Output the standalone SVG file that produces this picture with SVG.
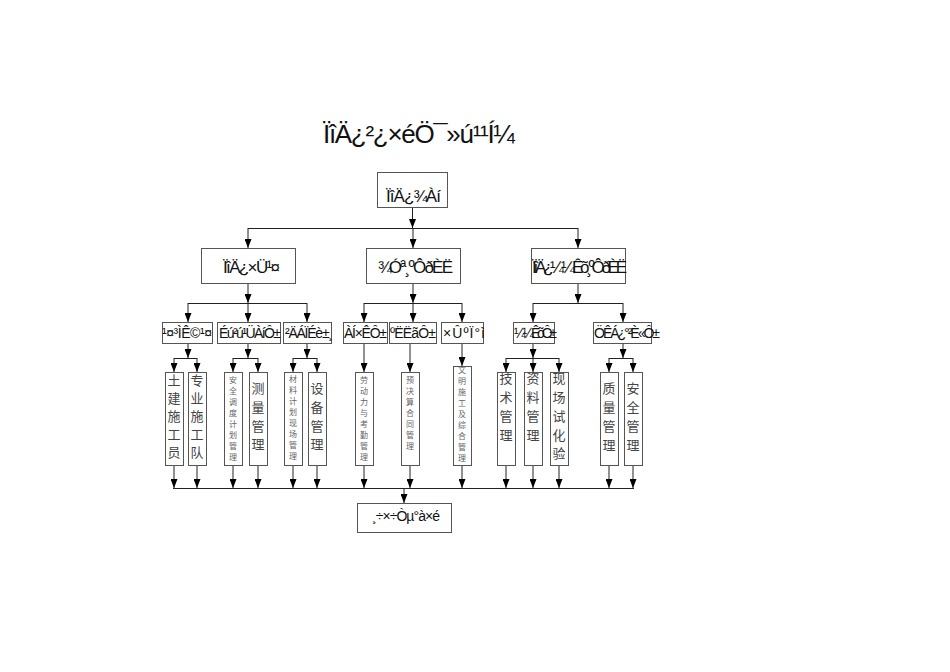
<svg xmlns="http://www.w3.org/2000/svg" width="950" height="672" viewBox="0 0 950 672">
<style>
.bx{fill:#fff;stroke:#555;stroke-width:1}
.ln{fill:none;stroke:#222;stroke-width:1}
.lat{font-family:"Liberation Sans","DejaVu Sans",sans-serif;fill:#111}
.v{font-family:"Noto Sans CJK SC",sans-serif;fill:#444;text-anchor:middle}
.vb{font-size:13px}
.vs{font-size:8px;fill:#666}
</style>
<defs>
<marker id="ah" viewBox="0 0 9 7" refX="9" refY="3.5" markerWidth="9" markerHeight="7" markerUnits="userSpaceOnUse" orient="auto"><path d="M0,0 L9,3.5 L0,7 z" fill="#000"/></marker>
</defs>
<rect width="950" height="672" fill="#fff"/>
<text class="lat" x="323" y="143" font-size="26" textLength="192" lengthAdjust="spacing">ÏîÄ¿²¿×éÖ¯»ú¹¹Í¼</text>

<g id="connectors">
<path class="ln" d="M412.5,208 V228" marker-end="url(#ah)"/>
<path class="ln" d="M248,228.5 H578"/>
<path class="ln" d="M248,228 V248" marker-end="url(#ah)"/>
<path class="ln" d="M413,228 V248" marker-end="url(#ah)"/>
<path class="ln" d="M578,228 V248" marker-end="url(#ah)"/>
<path class="ln" d="M248,283 V303" marker-end="url(#ah)"/>
<path class="ln" d="M413,283 V303" marker-end="url(#ah)"/>
<path class="ln" d="M578,283 V303" marker-end="url(#ah)"/>
<path class="ln" d="M188,303.5 H307"/>
<path class="ln" d="M364,303.5 H462"/>
<path class="ln" d="M533,303.5 H623"/>
<path class="ln" d="M188,303 V322" marker-end="url(#ah)"/>
<path class="ln" d="M248,303 V322" marker-end="url(#ah)"/>
<path class="ln" d="M307,303 V322" marker-end="url(#ah)"/>
<path class="ln" d="M364,303 V322" marker-end="url(#ah)"/>
<path class="ln" d="M413,303 V322" marker-end="url(#ah)"/>
<path class="ln" d="M462,303 V322" marker-end="url(#ah)"/>
<path class="ln" d="M533,303 V322" marker-end="url(#ah)"/>
<path class="ln" d="M623,303 V322" marker-end="url(#ah)"/>
<path class="ln" d="M188,343 V358" marker-end="url(#ah)"/>
<path class="ln" d="M248,343 V358" marker-end="url(#ah)"/>
<path class="ln" d="M307,343 V358" marker-end="url(#ah)"/>
<path class="ln" d="M533,343 V358" marker-end="url(#ah)"/>
<path class="ln" d="M623,343 V358" marker-end="url(#ah)"/>
<path class="ln" d="M174,358.5 H197"/>
<path class="ln" d="M233,358.5 H258"/>
<path class="ln" d="M293,358.5 H317"/>
<path class="ln" d="M506,358.5 H559"/>
<path class="ln" d="M609,358.5 H633"/>
<path class="ln" d="M174,358 V372" marker-end="url(#ah)"/>
<path class="ln" d="M197,358 V372" marker-end="url(#ah)"/>
<path class="ln" d="M233,358 V372" marker-end="url(#ah)"/>
<path class="ln" d="M258,358 V372" marker-end="url(#ah)"/>
<path class="ln" d="M293,358 V372" marker-end="url(#ah)"/>
<path class="ln" d="M317,358 V372" marker-end="url(#ah)"/>
<path class="ln" d="M364,343 V372" marker-end="url(#ah)"/>
<path class="ln" d="M410,343 V372" marker-end="url(#ah)"/>
<path class="ln" d="M462,343 V366" marker-end="url(#ah)"/>
<path class="ln" d="M506,358 V372" marker-end="url(#ah)"/>
<path class="ln" d="M533,358 V372" marker-end="url(#ah)"/>
<path class="ln" d="M559,358 V372" marker-end="url(#ah)"/>
<path class="ln" d="M609,358 V372" marker-end="url(#ah)"/>
<path class="ln" d="M633,358 V372" marker-end="url(#ah)"/>
<path class="ln" d="M174,465 V488" marker-end="url(#ah)"/>
<path class="ln" d="M197,465 V488" marker-end="url(#ah)"/>
<path class="ln" d="M233,465 V488" marker-end="url(#ah)"/>
<path class="ln" d="M258,465 V488" marker-end="url(#ah)"/>
<path class="ln" d="M293,465 V488" marker-end="url(#ah)"/>
<path class="ln" d="M317,465 V488" marker-end="url(#ah)"/>
<path class="ln" d="M364,465 V488" marker-end="url(#ah)"/>
<path class="ln" d="M410,465 V488" marker-end="url(#ah)"/>
<path class="ln" d="M462,465 V488" marker-end="url(#ah)"/>
<path class="ln" d="M506,465 V488" marker-end="url(#ah)"/>
<path class="ln" d="M533,465 V488" marker-end="url(#ah)"/>
<path class="ln" d="M559,465 V488" marker-end="url(#ah)"/>
<path class="ln" d="M609,465 V488" marker-end="url(#ah)"/>
<path class="ln" d="M633,465 V488" marker-end="url(#ah)"/>
<path class="ln" d="M173,488.5 H634"/>
<path class="ln" d="M404,488 V503" marker-end="url(#ah)"/>
</g>

<g id="n-top"><rect class="bx" x="377.5" y="172.5" width="70" height="35"/><text class="lat" x="386" y="202" font-size="17" textLength="55" lengthAdjust="spacing">ÏîÄ¿¾&#173;Àí</text></g>

<g id="n-l2a"><rect class="bx" x="201.5" y="248.5" width="94" height="35"/><text class="lat" x="223" y="273" font-size="17" textLength="57" lengthAdjust="spacing">ÏîÄ¿×Ü¹¤</text></g>
<g id="n-l2b"><rect class="bx" x="366.5" y="248.5" width="94" height="35"/><text class="lat" x="378" y="273" font-size="17" textLength="75" lengthAdjust="spacing">¾&#173;Óª¸ºÔðÈË</text></g>
<g id="n-l2c"><rect class="bx" x="531.5" y="248.5" width="94" height="35"/><text class="lat" x="532" y="273" font-size="17" textLength="95" lengthAdjust="spacing">ÏîÄ¿¼¼Êõ¸ºÔðÈË</text></g>

<g id="n-l3a"><rect class="bx" x="162.5" y="322.5" width="50" height="21"/><text class="lat" x="162" y="338" font-size="14" textLength="50" lengthAdjust="spacing">¹¤³ÌÊ©¹¤</text></g>
<g id="n-l3b"><rect class="bx" x="217.5" y="322.5" width="63" height="21"/><text class="lat" x="219" y="338" font-size="14" textLength="62" lengthAdjust="spacing">Éú²ú¹ÜÀíÔ±</text></g>
<g id="n-l3c"><rect class="bx" x="283.5" y="322.5" width="48" height="21"/><text class="lat" x="285" y="338" font-size="14" textLength="48" lengthAdjust="spacing">²ÄÁÏÉè±¸</text></g>
<g id="n-l3d"><rect class="bx" x="343.5" y="322.5" width="44" height="21"/><text class="lat" x="344" y="338" font-size="14" textLength="43" lengthAdjust="spacing">ÀÍ×ÊÔ±</text></g>
<g id="n-l3e"><rect class="bx" x="389.5" y="322.5" width="47" height="21"/><text class="lat" x="390" y="338" font-size="14" textLength="46" lengthAdjust="spacing">ºËËãÔ±</text></g>
<g id="n-l3f"><rect class="bx" x="441.5" y="322.5" width="42" height="21"/><text class="lat" x="443" y="338" font-size="14" textLength="42" lengthAdjust="spacing">×ÛºÏ°ì</text></g>
<g id="n-l3g"><rect class="bx" x="513.5" y="322.5" width="41" height="21"/><text class="lat" x="514" y="338" font-size="14" textLength="43" lengthAdjust="spacing">¼¼ÊõÔ±</text></g>
<g id="n-l3h"><rect class="bx" x="593.5" y="322.5" width="58" height="21"/><text class="lat" x="594" y="338" font-size="14" textLength="66" lengthAdjust="spacing">ÖÊÁ¿°²È«Ô±</text></g>

<g id="n-v1"><rect class="bx" x="165.5" y="372.5" width="18" height="93"/><text class="v vb"><tspan x="174" y="385">土</tspan><tspan x="174" y="403">建</tspan><tspan x="174" y="421">施</tspan><tspan x="174" y="439">工</tspan><tspan x="174" y="457">员</tspan></text></g>
<g id="n-v2"><rect class="bx" x="188.5" y="372.5" width="18" height="93"/><text class="v vb"><tspan x="197" y="385">专</tspan><tspan x="197" y="403">业</tspan><tspan x="197" y="421">施</tspan><tspan x="197" y="439">工</tspan><tspan x="197" y="457">队</tspan></text></g>
<g id="n-v3"><rect class="bx" x="224.5" y="372.5" width="18" height="93"/><text class="v vs"><tspan x="233" y="383">安</tspan><tspan x="233" y="394">全</tspan><tspan x="233" y="405">调</tspan><tspan x="233" y="416">度</tspan><tspan x="233" y="427">计</tspan><tspan x="233" y="438">划</tspan><tspan x="233" y="449">管</tspan><tspan x="233" y="460">理</tspan></text></g>
<g id="n-v4"><rect class="bx" x="249.5" y="372.5" width="18" height="93"/><text class="v vb"><tspan x="258" y="393">测</tspan><tspan x="258" y="412">量</tspan><tspan x="258" y="431">管</tspan><tspan x="258" y="449">理</tspan></text></g>
<g id="n-v5"><rect class="bx" x="284.5" y="372.5" width="18" height="93"/><text class="v vs"><tspan x="293" y="382">材</tspan><tspan x="293" y="393">料</tspan><tspan x="293" y="404">计</tspan><tspan x="293" y="415">划</tspan><tspan x="293" y="426">现</tspan><tspan x="293" y="437">场</tspan><tspan x="293" y="448">管</tspan><tspan x="293" y="459">理</tspan></text></g>
<g id="n-v6"><rect class="bx" x="308.5" y="372.5" width="18" height="93"/><text class="v vb"><tspan x="317" y="393">设</tspan><tspan x="317" y="412">备</tspan><tspan x="317" y="431">管</tspan><tspan x="317" y="449">理</tspan></text></g>
<g id="n-v7"><rect class="bx" x="355.5" y="372.5" width="18" height="93"/><text class="v vs"><tspan x="364" y="383">劳</tspan><tspan x="364" y="394">动</tspan><tspan x="364" y="405">力</tspan><tspan x="364" y="416">与</tspan><tspan x="364" y="427">考</tspan><tspan x="364" y="438">勤</tspan><tspan x="364" y="449">管</tspan><tspan x="364" y="460">理</tspan></text></g>
<g id="n-v8"><rect class="bx" x="401.5" y="372.5" width="18" height="93"/><text class="v vs"><tspan x="410" y="383">预</tspan><tspan x="410" y="394">决</tspan><tspan x="410" y="405">算</tspan><tspan x="410" y="416">合</tspan><tspan x="410" y="427">同</tspan><tspan x="410" y="438">管</tspan><tspan x="410" y="449">理</tspan></text></g>
<g id="n-v9"><rect class="bx" x="453.5" y="366.5" width="18" height="99"/><text class="v vs"><tspan x="462" y="373">文</tspan><tspan x="462" y="384">明</tspan><tspan x="462" y="395">施</tspan><tspan x="462" y="406">工</tspan><tspan x="462" y="417">及</tspan><tspan x="462" y="428">综</tspan><tspan x="462" y="439">合</tspan><tspan x="462" y="450">管</tspan><tspan x="462" y="461">理</tspan></text></g>
<g id="n-v10"><rect class="bx" x="497.5" y="372.5" width="18" height="93"/><text class="v vb"><tspan x="506" y="383">技</tspan><tspan x="506" y="402">术</tspan><tspan x="506" y="421">管</tspan><tspan x="506" y="440">理</tspan></text></g>
<g id="n-v11"><rect class="bx" x="524.5" y="372.5" width="18" height="93"/><text class="v vb"><tspan x="533" y="383">资</tspan><tspan x="533" y="402">料</tspan><tspan x="533" y="421">管</tspan><tspan x="533" y="440">理</tspan></text></g>
<g id="n-v12"><rect class="bx" x="550.5" y="372.5" width="18" height="93"/><text class="v vb"><tspan x="559" y="383">现</tspan><tspan x="559" y="402">场</tspan><tspan x="559" y="421">试</tspan><tspan x="559" y="440">化</tspan><tspan x="559" y="458">验</tspan></text></g>
<g id="n-v13"><rect class="bx" x="600.5" y="372.5" width="18" height="93"/><text class="v vb"><tspan x="609" y="393">质</tspan><tspan x="609" y="412">量</tspan><tspan x="609" y="431">管</tspan><tspan x="609" y="450">理</tspan></text></g>
<g id="n-v14"><rect class="bx" x="624.5" y="372.5" width="18" height="93"/><text class="v vb"><tspan x="633" y="393">安</tspan><tspan x="633" y="412">全</tspan><tspan x="633" y="431">管</tspan><tspan x="633" y="450">理</tspan></text></g>

<g id="n-bottom"><rect class="bx" x="357.5" y="503.5" width="94" height="29"/><text class="lat" x="372" y="521" font-size="14" textLength="68" lengthAdjust="spacing">¸÷×÷Òµ°à×é</text></g>
</svg>
